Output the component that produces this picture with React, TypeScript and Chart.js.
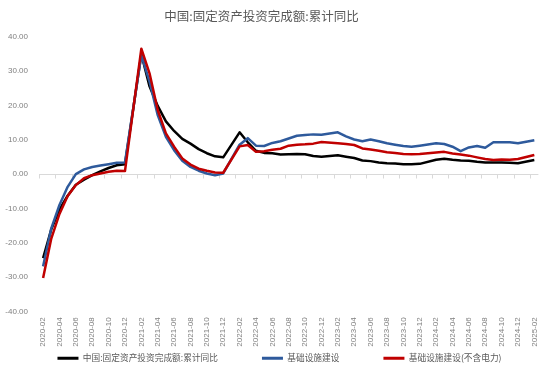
import React, { useEffect, useRef } from 'react';
import { Chart, registerables } from 'chart.js';

Chart.register(...registerables);

const months = [
  '2020-02', '2020-03', '2020-04', '2020-05', '2020-06', '2020-07', '2020-08', '2020-09', '2020-10', '2020-11', '2020-12',
  '2021-01', '2021-02', '2021-03', '2021-04', '2021-05', '2021-06', '2021-07', '2021-08', '2021-09', '2021-10', '2021-11', '2021-12',
  '2022-01', '2022-02', '2022-03', '2022-04', '2022-05', '2022-06', '2022-07', '2022-08', '2022-09', '2022-10', '2022-11', '2022-12',
  '2023-01', '2023-02', '2023-03', '2023-04', '2023-05', '2023-06', '2023-07', '2023-08', '2023-09', '2023-10', '2023-11', '2023-12',
  '2024-01', '2024-02', '2024-03', '2024-04', '2024-05', '2024-06', '2024-07', '2024-08', '2024-09', '2024-10', '2024-11', '2024-12',
  '2025-01', '2025-02',
];

const faiYoY = [
  -24.5, -16.1, -10.3, -6.3, -3.1, -1.6, -0.3, 0.8, 1.8, 2.6, 2.9,
  null, 35.0, 25.6, 19.9, 15.4, 12.6, 10.3, 8.9, 7.3, 6.1, 5.2, 4.9,
  null, 12.2, 9.3, 6.8, 6.2, 6.1, 5.7, 5.8, 5.9, 5.8, 5.3, 5.1,
  null, 5.5, 5.1, 4.7, 4.0, 3.8, 3.4, 3.2, 3.1, 2.9, 2.9, 3.0,
  null, 4.2, 4.5, 4.2, 4.0, 3.9, 3.6, 3.4, 3.4, 3.4, 3.3, 3.2,
  null, 4.1,
];

const infraYoY = [
  -26.9, -15.8, -9.0, -3.7, 0.0, 1.4, 2.1, 2.5, 2.9, 3.3, 3.4,
  null, 34.7, 27.0, 17.2, 10.9, 7.0, 3.9, 2.1, 1.0, 0.2, -0.3, 0.2,
  null, 8.6, 10.5, 8.3, 8.2, 9.1, 9.6, 10.4, 11.2, 11.4, 11.6, 11.5,
  null, 12.2, 11.0, 10.1, 9.6, 10.1, 9.6, 9.0, 8.6, 8.2, 8.0, 8.3,
  null, 9.0, 8.8, 8.0, 6.7, 7.8, 8.2, 7.7, 9.3, 9.3, 9.3, 9.0,
  null, 9.9,
];

const infraExPowerYoY = [
  -30.3, -18.8, -11.6, -6.4, -3.2, -1.2, -0.3, 0.2, 0.7, 1.0, 0.9,
  null, 36.6, 29.4, 18.7, 11.9, 8.0, 4.6, 2.8, 1.6, 1.0, 0.5, 0.4,
  null, 8.1, 8.5, 6.5, 6.7, 7.1, 7.4, 8.3, 8.6, 8.7, 8.9, 9.4,
  null, 9.0, 8.8, 8.5, 7.5, 7.2, 6.8, 6.4, 6.2, 5.9, 5.8, 5.9,
  null, 6.3, 6.5, 6.0, 5.7, 5.4, 4.9, 4.4, 4.1, 4.3, 4.2, 4.4,
  null, 5.6,
];

const seriesNames = ['中国:固定资产投资完成额:累计同比', '基础设施建设', '基础设施建设(不含电力)'];
const titleText = '中国:固定资产投资完成额:累计同比';
const yMin = -40;
const yMax = 40;
const yStep = 10;

const CJK = "'Noto Sans CJK SC', 'Noto Sans', sans-serif";
const LATIN = "'Liberation Sans', 'Noto Sans CJK SC', sans-serif";

const zeroAxisPlugin = {
  id: 'zeroAxis',
  beforeDatasetsDraw(chart: any) {
    const { ctx, chartArea, scales } = chart;
    const x = scales.x;
    const y = scales.y;
    const y0 = Math.round(y.getPixelForValue(0)) + 0.5;
    const half = (x.getPixelForValue(1) - x.getPixelForValue(0)) / 2;
    ctx.save();
    ctx.strokeStyle = '#d9d9d9';
    ctx.lineWidth = 1;
    ctx.beginPath();
    ctx.moveTo(chartArea.left, y0);
    ctx.lineTo(chartArea.right, y0);
    for (let i = 0; i < months.length; i += 2) {
      const px = Math.round(x.getPixelForValue(i) - half) + 0.5;
      ctx.moveTo(px, y0);
      ctx.lineTo(px, y0 + 4);
    }
    ctx.stroke();
    ctx.restore();
  },
};

const shiftPlugin = {
  id: 'shiftBoxes',
  afterLayout(chart: any) {
    const t = chart.titleBlock;
    if (t) {
      t.left -= 9;
      t.right -= 9;
    }
    const l = chart.legend;
    if (l) {
      l.left += 9;
      l.right += 9;
      l.top -= 1.5;
      l.bottom -= 1.5;
    }
    const x = chart.scales.x;
    if (x) {
      x.bottom = x.top + 42;
    }
  },
};

export default function App() {
  const ref = useRef<HTMLCanvasElement | null>(null);

  useEffect(() => {
    if (!ref.current) return;
    const colors = ['#000000', '#2E5A9C', '#C00000'];
    const data = [faiYoY, infraYoY, infraExPowerYoY];
    const chart = new Chart(ref.current, {
      type: 'line',
      data: {
        labels: months,
        datasets: data.map((d, i) => ({
          label: seriesNames[i],
          data: d,
          borderColor: colors[i],
          backgroundColor: colors[i],
          borderWidth: 2.5,
          borderJoinStyle: 'round',
          pointRadius: 0,
          pointHoverRadius: 0,
          tension: 0,
          spanGaps: true,
          fill: false,
          order: 3 - i,
        })),
      },
      options: {
        responsive: false,
        animation: false,
        events: [],
        layout: { padding: { left: 0, right: 9, top: 0, bottom: 0 } },
        plugins: {
          title: {
            display: true,
            text: titleText,
            color: '#595959',
            font: { family: CJK, size: 12.5, weight: 'normal' },
            padding: { top: 9, bottom: 13 },
          },
          legend: {
            display: true,
            position: 'bottom',
            labels: {
              boxWidth: 21,
              boxHeight: 3,
              padding: 44,
              color: '#595959',
              font: { family: CJK, size: 8.7 },
              sort: (a: any, b: any) => a.datasetIndex - b.datasetIndex,
              generateLabels: (c: any) =>
                Chart.defaults.plugins.legend.labels.generateLabels(c).map((it: any) => ({
                  ...it,
                  fillStyle: it.strokeStyle,
                  lineWidth: 0,
                })),
            },
          },
          tooltip: { enabled: false },
        },
        scales: {
          x: {
            type: 'category',
            offset: true,
            grid: { display: false, drawTicks: false },
            border: { display: false },
            ticks: {
              autoSkip: false,
              maxRotation: 90,
              minRotation: 90,
              padding: 6,
              color: '#808080',
              font: { family: LATIN, size: 8 },
              callback: (_v: any, i: number) => (i % 2 === 0 ? months[i] : ''),
            },
            afterFit: (s: any) => {
              s.height = 0;
            },
          },
          y: {
            min: yMin,
            max: yMax,
            grid: { display: false, drawTicks: false },
            border: { display: false },
            ticks: {
              stepSize: yStep,
              padding: 11,
              color: '#808080',
              font: { family: LATIN, size: 8 },
              callback: (v: any) => Number(v).toFixed(2),
            },
            afterFit: (s: any) => {
              s.width = 39;
            },
          },
        },
      },
      plugins: [zeroAxisPlugin, shiftPlugin],
    } as any);
    return () => chart.destroy();
  }, []);

  return (
    <div style={{ position: 'absolute', left: 0, top: 0, width: 550, height: 374, background: '#fff' }}>
      <canvas ref={ref} width={550} height={374} />
    </div>
  );
}
